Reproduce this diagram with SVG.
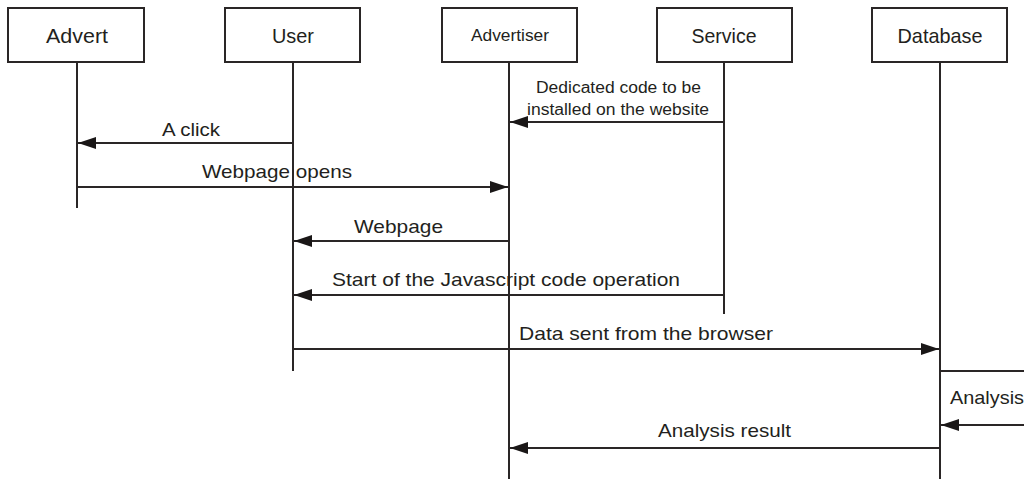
<svg xmlns="http://www.w3.org/2000/svg" width="1024" height="479" viewBox="0 0 1024 479">
  <style>
    .box { fill: #ffffff; stroke: #2a2626; stroke-width: 2; }
    .life { stroke: #2a2626; stroke-width: 2; fill: none; }
    .msg { stroke: #2a2626; stroke-width: 2; fill: none; }
    .msg-arrow { marker-end: url(#head); }
    .title { font-family: "Liberation Sans", Arial, sans-serif; font-size: 21px; fill: #231f20; text-anchor: middle; }
    .small { font-size: 17px; }
    .label { font-family: "Liberation Sans", Arial, sans-serif; font-size: 19px; fill: #231f20; }
    .note { font-size: 16px; }
  </style>
  <defs>
    <marker id="head" markerUnits="userSpaceOnUse" markerWidth="18" markerHeight="12" refX="18" refY="6" orient="auto">
      <path d="M0,0 L18,6 L0,12 Z" fill="#1a1717"/>
    </marker>
  </defs>

  <rect width="1024" height="479" fill="#ffffff"/>

  <!-- participants with their lifelines -->
  <g id="advert">
    <line class="life" x1="77" y1="62" x2="77" y2="208"/>
    <rect class="box" x="8" y="8" width="136" height="54"/>
    <text class="title" x="77" y="43" textLength="62" lengthAdjust="spacingAndGlyphs">Advert</text>
  </g>
  <g id="user">
    <line class="life" x1="293" y1="62" x2="293" y2="371"/>
    <rect class="box" x="225" y="8" width="135" height="54"/>
    <text class="title" x="293" y="43" textLength="42" lengthAdjust="spacingAndGlyphs">User</text>
  </g>
  <g id="advertiser">
    <line class="life" x1="509" y1="62" x2="509" y2="479"/>
    <rect class="box" x="442" y="8" width="135" height="54"/>
    <text class="title small" x="510" y="41" textLength="78" lengthAdjust="spacingAndGlyphs">Advertiser</text>
  </g>
  <g id="service">
    <line class="life" x1="724" y1="62" x2="724" y2="314"/>
    <rect class="box" x="657" y="8" width="135" height="54"/>
    <text class="title" x="724" y="43" textLength="65" lengthAdjust="spacingAndGlyphs">Service</text>
  </g>
  <g id="database">
    <line class="life" x1="940" y1="62" x2="940" y2="479"/>
    <rect class="box" x="872" y="8" width="135" height="54"/>
    <text class="title" x="940" y="43" textLength="85" lengthAdjust="spacingAndGlyphs">Database</text>
  </g>

  <!-- messages -->
  <g id="connectors">
    <line class="msg msg-arrow" x1="724" y1="122" x2="510" y2="122"/>
    <line class="msg msg-arrow" x1="293" y1="143" x2="78" y2="143"/>
    <line class="msg msg-arrow" x1="77" y1="187" x2="508" y2="187"/>
    <line class="msg msg-arrow" x1="509" y1="241" x2="294" y2="241"/>
    <line class="msg msg-arrow" x1="724" y1="295" x2="294" y2="295"/>
    <line class="msg msg-arrow" x1="293" y1="349" x2="939" y2="349"/>
    <line class="msg" x1="940" y1="371" x2="1024" y2="371"/>
    <line class="msg msg-arrow" x1="1024" y1="425" x2="941" y2="425"/>
    <line class="msg msg-arrow" x1="940" y1="448" x2="510" y2="448"/>
  </g>

  <!-- message labels -->
  <g id="labels">
    <text class="label note" x="536" y="93" textLength="165" lengthAdjust="spacingAndGlyphs">Dedicated code to be</text>
    <text class="label note" x="527" y="115" textLength="182" lengthAdjust="spacingAndGlyphs">installed on the website</text>
    <text class="label" x="162" y="136" textLength="58" lengthAdjust="spacingAndGlyphs">A click</text>
    <text class="label" x="202" y="178" textLength="150" lengthAdjust="spacingAndGlyphs">Webpage opens</text>
    <text class="label" x="354" y="233" textLength="89" lengthAdjust="spacingAndGlyphs">Webpage</text>
    <text class="label" x="332" y="286" textLength="348" lengthAdjust="spacingAndGlyphs">Start of the Javascript code operation</text>
    <text class="label" x="519" y="340" textLength="254" lengthAdjust="spacingAndGlyphs">Data sent from the browser</text>
    <text class="label" x="950" y="404" textLength="74" lengthAdjust="spacingAndGlyphs">Analysis</text>
    <text class="label" x="658" y="437" textLength="133" lengthAdjust="spacingAndGlyphs">Analysis result</text>
  </g>
</svg>
